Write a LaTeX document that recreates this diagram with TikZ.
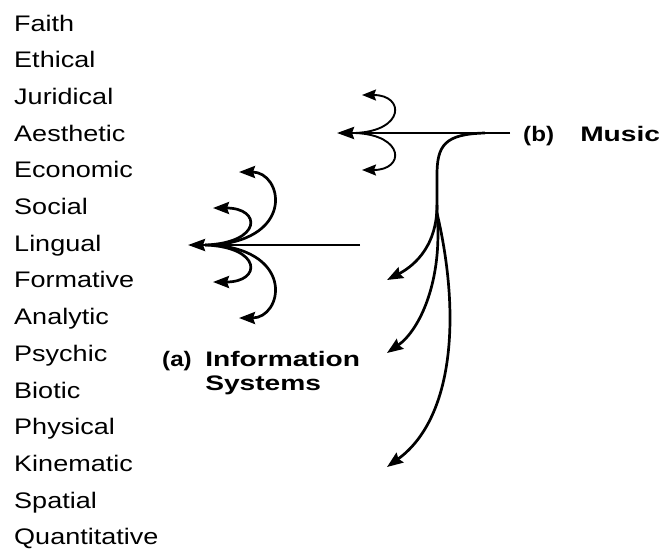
\documentclass[tikz,border=0pt]{standalone}
\usepackage{fontspec}
\setmainfont{Liberation Sans}
\usetikzlibrary{arrows.meta}
\begin{document}
\begin{tikzpicture}[x=1pt,y=-1pt,
  lbl/.style={anchor=base west, inner sep=0pt, font=\fontsize{22.5}{27}\selectfont, xscale=1.2},
  ttl/.style={anchor=base west, inner sep=0pt, font=\fontsize{21}{21}\selectfont\bfseries, xscale=1.34},
  par/.style={anchor=base west, inner sep=0pt, font=\fontsize{21}{21}\selectfont\bfseries, xscale=1.15},
  big/.style={line width=2.8pt, -{Stealth[length=17pt,width=12pt,inset=2pt]}},
  mid/.style={line width=2.7pt, -{Stealth[length=16pt,width=12pt,inset=2pt]}},
  small/.style={line width=1.9pt, -{Stealth[length=14pt,width=11pt,inset=2pt]}},
  plain/.style={line width=2.7pt}
]
\useasboundingbox (0,0) rectangle (662,558);
% list of aspects
\foreach \t [count=\i from 0] in {Faith,Ethical,Juridical,Aesthetic,Economic,Social,Lingual,Formative,Analytic,Psychic,Biotic,Physical,Kinematic,Spatial,Quantitative}
  \node[lbl] (m\i) at (14,{31+36.71*\i}) {\t};
% labels
\node[par] (alab) at (162,366) {(a)};
\node[ttl] (atxt) at (205,366) {Information};
\node[ttl] (atxt2) at (205,390) {Systems};
\node[par] (blab) at (523,141) {(b)};
\node[ttl] (btxt) at (580,141) {Music};
% (a) coordinates
\coordinate (aS) at (360,245);
\coordinate (aT) at (188,245);
\coordinate (aI) at (205,245);
\coordinate (aO) at (214,245);
\coordinate (aSoc) at (213,208);
\coordinate (aFor) at (213,282);
\coordinate (aEco) at (239,172);
\coordinate (aAna) at (239,318);
\draw[big] (aS) -- (aT);
\draw[mid] (aI) .. controls (262,243) and (262,208) .. (aSoc);
\draw[mid] (aI) .. controls (262,247) and (262,282) .. (aFor);
\draw[mid] (aO) .. controls (296,238) and (282,172) .. (aEco);
\draw[mid] (aO) .. controls (296,252) and (282,318) .. (aAna);
% (b) coordinates
\coordinate (bS) at (510,133);
\coordinate (bT) at (337,133);
\coordinate (bI) at (355,133);
\coordinate (bJur) at (362,95);
\coordinate (bEco) at (362,170);
\coordinate (bV) at (485,133);
\coordinate (bF) at (437,213);
\coordinate (bFor) at (387,280);
\coordinate (bPsy) at (387,353);
\coordinate (bKin) at (387,467);
\draw[big] (bS) -- (bT);
\draw[small] (bI) .. controls (405,131) and (405,95) .. (bJur);
\draw[small] (bI) .. controls (405,135) and (405,170) .. (bEco);
\draw[plain] (bV) .. controls (445,134) and (437,145) .. (437,175) -- (bF);
\draw[mid] (437,205) .. controls (437,250) and (410,268) .. (bFor);
\draw[mid] (bF) .. controls (443,280) and (420,330) .. (bPsy);
\draw[mid] (bF) .. controls (462,320) and (452,420) .. (bKin);
\end{tikzpicture}
\end{document}
